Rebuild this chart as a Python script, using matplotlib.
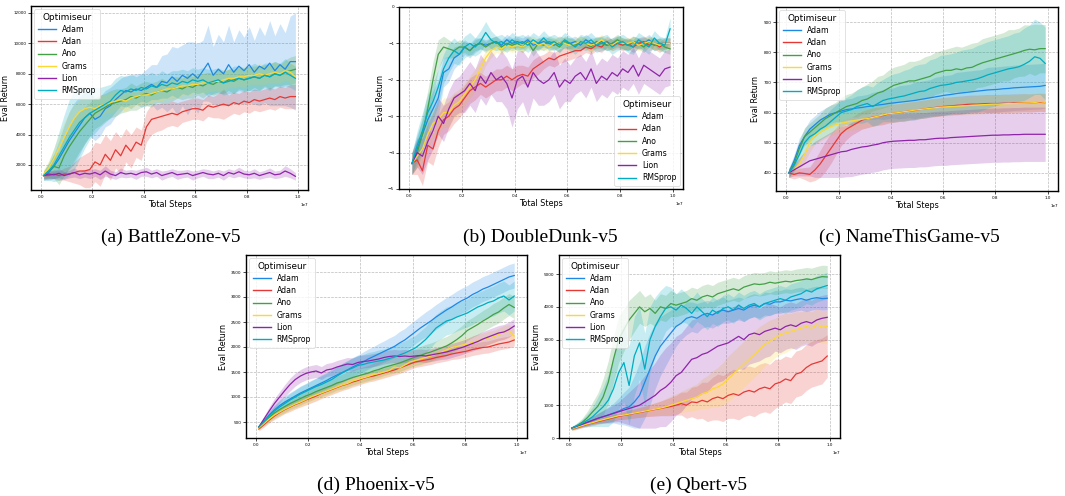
import numpy as np
import matplotlib
matplotlib.use("Agg")
import matplotlib.pyplot as plt

# ---------------- data (x: 50 evaluation points, in units of 1e7 steps) -------------
STEPS = np.linspace(0.01, 0.99, 50) * 1e7
OPTIMISERS = ["Adam", "Adan", "Ano", "Grams", "Lion", "RMSprop"]
COLORS = ["#1E88E5", "#E53935", "#43A047", "#FDD835", "#8E24AA", "#00ACC1"]

# (a) BattleZone-v5
BZ_ADAM = [1300,1500,1900,2400,3000,3600,4100,4600,5100,5400, 5000,5200,5700,5900,6300,6600,6900,6800,7000,6900,
           7100,7300,7100,7500,7400,7800,7500,7900,7700,8000, 7700,8200,8700,7900,8300,8000,8600,8100,8500,8200,
           8600,8100,8500,8300,8700,8200,8600,8300,8800,8800]
BZ_ADAM_SD = [300,500,800,1200,1600,1900,2000,1900,1700,1500, 1400,1300,1200,1200,1100,1100,1000,1100,1000,1100,
              1200,1300,1500,1700,1900,2000,2200,2000,2400,2100, 2300,2000,2500,1900,2300,2100,2600,2000,2400,2200,
              2500,2100,2600,2200,2800,2300,2700,2400,3000,3200]
BZ_ADAN = [1300,1300,1400,1300,1400,1400,1500,1600,1600,1700, 2200,2000,2700,2300,3000,2600,3300,2900,3500,3300,
           4500,5000,5100,5200,5300,5400,5300,5500,5600,5700, 5700,5600,5900,5800,5900,6000,5900,6100,6000,6200,
           6100,6300,6200,6300,6400,6300,6500,6400,6500,6500]
BZ_ADAN_SD = [200,200,300,300,400,500,700,900,1100,1200, 1300,1400,1300,1300,1200,1200,1100,1100,1000,1000,
              1000,1000,900,900,800,800,800,700,700,700, 700,700,700,700,800,1000,700,700,700,700,
              700,700,700,700,700,700,700,700,800,800]
BZ_ANO = [1300,1600,1900,1800,2600,3200,3700,4200,4600,5000, 5400,5600,5800,6000,6100,6200,6300,6500,6400,6600,
          6700,6600,6800,6900,6800,7000,7100,7000,7200,7100, 7300,7200,7400,7300,7500,7400,7600,7500,7700,7600,
          7700,7800,7700,7900,7800,8000,7900,8100,8200,8300]
BZ_ANO_SD = [300,500,800,1100,1300,1400,1400,1300,1200,1100, 1000,1000,900,900,900,800,800,900,800,800,
             800,800,700,800,700,800,700,700,800,700, 700,800,700,700,800,700,700,800,700,700,
             800,700,800,700,800,800,700,800,900,900]
BZ_GRAMS = [1400,1800,2400,3100,3800,4500,5100,5500,5700,5800, 5700,5900,6000,6100,6200,6300,6200,6400,6500,6600,
            6600,6700,6800,6900,7000,7000,7100,7200,7200,7300, 7300,7400,7400,7500,7500,7600,7700,7700,7800,7800,
            7900,7900,8000,7900,8000,8100,8000,8200,8100,7800]
BZ_GRAMS_SD = [300,500,700,900,1000,1000,900,800,800,700, 700,700,600,700,600,600,700,600,600,600,
               600,600,600,700,600,600,700,600,600,600, 600,700,600,600,600,700,600,600,600,700,
               600,600,700,600,600,700,600,600,700,700]
BZ_LION = [1300,1400,1350,1450,1300,1400,1500,1350,1450,1400, 1500,1350,1600,1400,1300,1500,1400,1450,1350,1500,
           1550,1400,1500,1300,1400,1500,1350,1400,1450,1300, 1400,1500,1400,1350,1450,1300,1500,1400,1550,1400,
           1350,1450,1300,1400,1500,1350,1400,1600,1450,1250]
BZ_LION_SD = [200,250,250,300,250,250,300,250,250,300, 250,300,350,250,250,300,250,250,300,250,
              300,250,250,300,250,250,300,250,250,300, 250,250,300,250,250,300,250,250,300,250,
              250,300,250,250,300,250,250,350,300,250]
BZ_RMS = [1300,1600,2000,2600,3200,3800,4300,4800,5100,5400, 5600,5800,6000,6200,6600,6900,6800,7000,6900,7100,
          7000,7200,7100,7300,7200,7400,7300,7500,7400,7600, 7500,7600,7400,7500,7600,7400,7500,7600,7700,7600,
          7700,7800,7700,7900,7800,8000,7900,8100,7900,7700]
BZ_RMS_SD = [300,600,1100,1600,2100,2500,2600,2400,2000,1700, 1500,1300,1200,1100,1100,1000,1000,1000,900,900,
             900,900,800,900,800,800,900,800,800,800, 800,800,900,800,800,800,800,900,800,800,
             800,900,800,800,900,800,800,900,800,800]

# (b) DoubleDunk-v5
DD_ADAM = [-4.3,-3.9,-3.5,-3.1,-2.8,-2.5,-1.8,-1.7,-1.4,-1.3, -1.1,-1.2,-1.05,-1.0,-1.05,-1.0,-0.95,-1.05,-0.9,-1.0,
           -0.95,-1.0,-0.9,-1.05,-1.0,-0.95,-1.0,-1.05,-0.95,-1.0, -1.0,-0.95,-1.05,-0.9,-1.0,-1.0,-0.95,-1.05,-1.0,-0.95,
           -1.0,-1.05,-0.95,-1.0,-1.0,-0.9,-1.05,-1.0,-1.0,-1.0]
DD_ADAM_SD = [0.3,0.4,0.4,0.5,0.5,0.5,0.4,0.35,0.3,0.25, 0.2,0.2,0.2,0.15,0.15,0.15,0.15,0.15,0.15,0.15,
              0.15,0.15,0.15,0.15,0.15,0.15,0.15,0.15,0.15,0.15, 0.15,0.15,0.15,0.15,0.15,0.15,0.15,0.15,0.15,0.15,
              0.15,0.15,0.15,0.15,0.15,0.15,0.15,0.15,0.15,0.15]
DD_ADAN = [-4.3,-4.2,-4.5,-3.8,-3.9,-3.4,-3.1,-3.0,-2.8,-2.7, -2.5,-2.3,-2.2,-2.1,-2.2,-2.1,-2.0,-2.0,-1.9,-2.0,
           -1.9,-1.85,-1.9,-1.7,-1.6,-1.5,-1.4,-1.45,-1.35,-1.3, -1.25,-1.2,-1.2,-1.1,-1.15,-1.05,-1.1,-0.95,-1.05,-1.0,
           -1.05,-1.0,-1.1,-1.0,-0.95,-1.05,-1.0,-1.1,-1.0,-1.0]
DD_ADAN_SD = [0.3,0.4,0.4,0.45,0.45,0.45,0.4,0.4,0.4,0.35, 0.35,0.35,0.35,0.3,0.3,0.3,0.3,0.3,0.3,0.3,
              0.3,0.25,0.25,0.25,0.25,0.2,0.2,0.2,0.2,0.2, 0.2,0.2,0.15,0.15,0.15,0.15,0.15,0.15,0.15,0.15,
              0.15,0.15,0.15,0.15,0.15,0.15,0.15,0.15,0.15,0.15]
DD_ANO = [-4.3,-4.0,-3.5,-2.8,-2.0,-1.3,-1.1,-1.15,-1.2,-1.1, -1.1,-1.2,-1.05,-1.0,-1.1,-1.0,-0.95,-1.1,-1.0,-1.05,
          -1.0,-1.1,-0.95,-1.2,-1.0,-1.05,-0.95,-1.0,-1.1,-0.95, -1.0,-1.05,-0.95,-1.0,-1.1,-0.95,-1.0,-1.05,-1.0,-0.9,
          -1.0,-1.05,-0.95,-1.0,-1.1,-0.95,-1.05,-1.0,-1.1,-1.15]
DD_ANO_SD = [0.3,0.4,0.5,0.5,0.5,0.4,0.3,0.25,0.2,0.2, 0.15,0.15,0.15,0.15,0.15,0.15,0.15,0.15,0.15,0.15,
             0.15,0.15,0.15,0.15,0.15,0.15,0.15,0.15,0.15,0.15, 0.15,0.15,0.15,0.15,0.15,0.15,0.15,0.15,0.15,0.15,
             0.15,0.15,0.15,0.15,0.15,0.15,0.15,0.15,0.15,0.15]
DD_GRAMS = [-4.3,-4.1,-3.9,-3.5,-3.2,-3.1,-2.9,-2.9,-2.7,-2.6, -2.4,-2.2,-2.0,-1.7,-1.4,-1.2,-1.1,-1.15,-1.05,-1.1,
            -1.05,-1.1,-1.0,-0.95,-1.05,-1.0,-1.1,-1.0,-0.95,-1.0, -1.05,-1.0,-0.95,-1.0,-1.05,-1.0,-0.9,-1.0,-1.05,-0.95,
            -1.0,-1.0,-0.95,-1.05,-1.0,-0.95,-1.0,-1.05,-1.0,-1.0]
DD_GRAMS_SD = [0.3,0.3,0.4,0.4,0.4,0.4,0.4,0.4,0.35,0.35, 0.3,0.3,0.3,0.25,0.2,0.2,0.15,0.15,0.15,0.15,
               0.15,0.15,0.15,0.15,0.15,0.15,0.15,0.15,0.15,0.15, 0.15,0.15,0.15,0.15,0.15,0.15,0.15,0.15,0.15,0.15,
               0.15,0.15,0.15,0.15,0.15,0.15,0.15,0.15,0.15,0.15]
DD_LION = [-4.3,-4.0,-4.1,-3.7,-3.4,-3.0,-3.2,-2.8,-2.5,-2.4, -2.3,-2.1,-2.3,-1.9,-2.1,-1.8,-2.0,-1.9,-2.1,-2.5,
           -2.0,-1.9,-2.2,-1.8,-2.0,-2.1,-2.0,-1.8,-2.2,-2.0, -2.1,-1.9,-1.8,-2.0,-1.7,-2.1,-1.9,-2.0,-1.8,-1.9,
           -1.7,-1.8,-1.6,-1.9,-1.6,-1.7,-1.8,-1.9,-1.7,-1.65]
DD_LION_SD = [0.3,0.4,0.5,0.5,0.5,0.5,0.5,0.5,0.5,0.5, 0.6,0.6,0.6,0.6,0.6,0.6,0.6,0.7,0.7,0.8,
              0.8,0.7,0.8,0.7,0.7,0.6,0.6,0.6,0.6,0.6, 0.5,0.5,0.5,0.5,0.5,0.5,0.5,0.5,0.5,0.5,
              0.5,0.5,0.5,0.5,0.5,0.5,0.5,0.5,0.5,0.5]
DD_RMS = [-4.3,-3.8,-3.4,-2.9,-2.6,-2.2,-1.7,-1.4,-1.2,-1.3, -1.1,-1.0,-1.1,-0.95,-0.7,-0.9,-1.0,-0.95,-1.05,-0.9,
          -1.0,-0.95,-1.05,-0.9,-1.0,-0.85,-1.0,-0.95,-1.05,-0.9, -1.0,-1.1,-0.95,-1.0,-0.9,-1.05,-1.0,-0.95,-1.1,-1.0,
          -0.95,-1.05,-1.1,-0.9,-1.0,-1.1,-0.85,-1.0,-1.05,-0.6]
DD_RMS_SD = [0.3,0.4,0.5,0.5,0.5,0.5,0.4,0.4,0.35,0.3, 0.3,0.3,0.25,0.3,0.3,0.25,0.2,0.2,0.2,0.2,
             0.2,0.2,0.2,0.2,0.2,0.2,0.2,0.2,0.2,0.2, 0.2,0.2,0.2,0.2,0.2,0.2,0.2,0.2,0.2,0.2,
             0.2,0.2,0.2,0.2,0.2,0.2,0.2,0.2,0.2,0.3]

# (c) NameThisGame-v5
NT_ADAM = [400,440,490,520,545,560,575,585,595,600, 605,610,612,615,617,620,622,625,627,630,
           632,634,636,638,640,643,646,649,652,655, 658,660,663,665,667,669,671,673,675,676,
           677,679,680,682,683,684,685,686,687,690]
NT_ADAM_SD = [15,20,25,25,30,30,30,30,30,30, 35,35,35,40,40,40,45,45,50,50, 50,55,55,55,60,60,60,60,65,65,
              65,65,70,70,70,70,70,70,75,75, 75,75,75,75,75,75,75,75,75,75]
NT_ADAN = [400,395,400,398,395,410,430,455,480,505, 530,545,555,565,575,580,585,588,590,595,
           598,600,603,605,607,610,612,615,617,619, 621,622,624,625,627,628,628,629,630,630,
           630,631,631,632,632,633,632,633,634,633]
NT_ADAN_SD = [15,15,15,20,25,35,45,50,50,45, 40,35,30,30,30,30,30,30,30,30, 30,30,30,30,30,30,30,30,30,30,
              30,30,30,30,30,30,30,30,30,30, 30,30,30,30,30,30,30,30,30,30]
NT_ANO = [400,430,480,520,535,550,565,580,590,600, 610,620,625,630,640,645,655,665,670,680,
          690,695,700,705,705,710,715,720,730,735, 740,740,745,742,748,750,758,765,770,775,
          780,785,790,795,800,806,810,808,812,812]
NT_ANO_SD = [15,20,25,30,30,30,30,35,35,35, 40,40,40,45,45,50,50,55,55,60, 60,60,60,65,65,65,70,70,70,70,
             70,75,75,75,75,80,75,80,80,80, 80,80,85,80,80,85,80,85,80,80]
NT_GRAMS = [400,410,430,460,500,525,535,545,553,560, 565,568,572,575,578,580,584,588,592,596,
            598,600,603,605,608,610,612,614,616,618, 619,620,621,622,623,624,625,626,627,628,
            628,629,630,630,631,632,632,633,636,634]
NT_GRAMS_SD = [15,15,20,25,30,30,30,30,30,30, 30,30,30,30,30,30,30,30,30,30, 30,30,30,30,30,30,30,30,30,30,
               30,30,30,30,30,30,30,30,30,30, 30,30,30,30,30,30,30,30,30,30]
NT_LION = [400,410,420,430,440,445,450,455,460,465, 470,472,478,482,486,488,492,495,500,503,
           505,506,507,508,508,510,510,512,514,515, 515,517,518,519,520,521,522,523,524,525,
           525,526,526,527,527,528,528,528,528,528]
NT_LION_SD = [15,20,30,40,50,60,65,70,75,80, 85,85,90,90,90,90,90,90,90,90, 90,90,90,90,90,90,90,90,90,90,
              90,90,90,90,90,90,90,90,90,90, 90,90,90,90,90,90,90,90,90,90]
NT_RMS = [400,425,460,500,520,530,545,555,570,585, 600,605,610,620,625,630,620,630,640,645,
          648,652,655,660,665,670,672,680,685,690, 692,695,700,702,705,708,712,718,725,730,
          735,740,745,748,752,760,770,785,780,763]
NT_RMS_SD = [15,20,25,30,30,35,35,35,40,40, 45,45,50,55,60,60,65,70,70,75, 80,80,85,85,90,90,90,95,95,100,
             100,100,100,105,105,105,110,110,110,110, 110,110,110,115,115,120,120,125,120,120]

# (d) Phoenix-v5
PH_ADAM = [400,520,640,740,830,900,960,1020,1080,1130, 1180,1230,1280,1330,1390,1440,1490,1540,1600,1650,
           1700,1760,1810,1860,1910,1960,2010,2080,2140,2220, 2300,2380,2450,2520,2600,2670,2740,2800,2870,2930,
           2980,3050,3100,3160,3200,3250,3300,3350,3400,3430]
PH_ADAM_SD = [40,60,80,100,110,120,130,130,140,140, 150,150,160,160,170,170,180,180,190,190,
              200,200,200,210,210,220,220,230,230,240, 240,240,250,250,250,250,250,250,250,250,
              250,250,250,250,250,250,250,250,250,250]
PH_ADAN = [360,450,540,620,690,750,800,850,890,940, 980,1020,1070,1110,1150,1190,1230,1260,1300,1330,
           1370,1400,1420,1450,1480,1510,1540,1580,1620,1660, 1700,1720,1740,1760,1790,1810,1830,1860,1880,1900,
           1920,1950,1970,1990,2000,2030,2060,2080,2100,2140]
PH_ADAN_SD = [40,50,60,70,80,80,90,90,90,100, 100,100,100,100,100,100,100,100,100,100,
              100,100,100,100,100,100,100,110,110,110, 110,110,110,110,110,110,110,110,120,120,
              120,120,120,120,120,120,120,120,120,120]
PH_ANO = [400,490,590,680,750,810,870,920,970,1020, 1060,1110,1150,1190,1230,1280,1310,1350,1390,1420,
          1450,1480,1520,1550,1590,1620,1650,1680,1720,1760, 1800,1830,1870,1900,1940,1980,2020,2080,2150,2230,
          2330,2390,2450,2520,2580,2650,2700,2780,2850,2790]
PH_ANO_SD = [40,60,80,100,110,120,120,130,130,130, 130,130,140,140,140,140,150,150,150,150,
             150,150,160,160,160,160,170,170,170,170, 170,180,180,180,180,190,190,190,200,200,
             200,200,210,210,210,220,220,220,220,220]
PH_GRAMS = [380,470,560,640,700,760,810,860,900,950, 1000,1040,1080,1120,1160,1200,1240,1270,1320,1350,
            1380,1410,1450,1470,1500,1530,1600,1580,1640,1700, 1730,1760,1790,1820,1860,1900,1940,1990,2010,2040,
            2060,2090,2120,2150,2180,2200,2250,2300,2320,2220]
PH_GRAMS_SD = [40,50,60,70,80,80,90,90,90,100, 100,100,100,100,100,100,100,100,100,100,
               100,100,110,110,110,110,110,110,110,110, 120,120,120,120,120,120,120,120,130,130,
               130,130,130,130,130,130,130,130,130,130]
PH_LION = [400,560,720,870,1000,1130,1250,1350,1420,1470, 1500,1520,1480,1540,1560,1600,1630,1660,1650,1690,
           1710,1720,1740,1760,1790,1810,1820,1810,1820,1810, 1820,1830,1820,1840,1860,1880,1900,1930,1960,1990,
           2030,2070,2110,2160,2200,2240,2280,2300,2350,2420]
PH_LION_SD = [40,60,80,100,110,120,130,130,130,130, 130,130,130,130,130,130,130,130,130,130,
              130,130,130,130,130,130,130,130,130,130, 130,130,130,130,130,130,140,140,140,140,
              140,150,150,150,150,150,150,150,150,150]
PH_RMS = [400,500,620,720,800,870,940,1000,1060,1110, 1160,1210,1250,1300,1350,1420,1480,1540,1580,1630,
          1650,1680,1700,1720,1740,1770,1800,1840,1880,1930, 1980,2060,2150,2260,2380,2450,2520,2550,2600,2640,
          2680,2740,2800,2840,2890,2920,2980,3020,2940,3020]
PH_RMS_SD = [40,60,80,100,110,120,130,140,150,150, 160,160,170,170,180,180,190,190,200,200,
             200,210,210,220,220,230,230,240,240,250, 250,260,260,270,270,280,280,280,280,280,
             280,290,290,290,290,300,300,300,300,300]

# (e) Qbert-v5
QB_ADAM = [300,360,420,480,540,600,650,700,760,820, 900,950,1100,1300,1700,2100,2500,2800,3000,3200,
           3400,3500,3650,3700,3650,3750,3800,3750,3850,3900, 3850,3900,3950,3900,4000,4050,4000,4100,4080,4150,
           4150,4200,4180,4220,4250,4200,4250,4280,4250,4260]
QB_ADAM_SD = [50,60,80,100,120,150,200,250,300,400, 500,600,800,1000,1100,1100,1000,900,800,700,
              600,500,500,450,450,400,400,400,400,400, 350,350,350,350,350,350,350,350,350,350,
              350,350,350,350,350,350,350,350,350,350]
QB_ADAN = [280,320,370,420,460,500,540,580,620,660, 690,720,750,780,810,840,870,900,930,960,
           1000,1050,1000,1100,1080,1150,1100,1200,1250,1200, 1300,1350,1300,1400,1450,1400,1500,1550,1500,1650,
           1700,1800,1750,1950,2000,2150,2250,2300,2350,2500]
QB_ADAN_SD = [50,60,60,70,80,80,90,100,100,100, 120,130,140,150,160,180,200,220,250,280,
              300,350,400,450,500,550,600,650,700,700, 700,750,750,750,750,750,750,750,750,750,
              700,700,700,700,700,700,700,700,700,650]
QB_ANO = [300,380,480,620,800,970,1250,1700,2400,3000, 3300,3600,3800,4000,3850,3950,3800,4000,3950,4100,
          4050,4100,4150,4250,4200,4300,4350,4300,4400,4450, 4500,4550,4500,4600,4650,4700,4680,4700,4750,4720,
          4750,4780,4760,4800,4820,4850,4830,4880,4920,4910]
QB_ANO_SD = [50,80,120,200,300,400,550,650,700,700, 650,600,550,500,450,450,400,400,400,400,
             350,350,350,350,350,350,350,350,350,350, 350,350,350,350,350,350,350,350,350,350,
             350,350,350,350,350,350,350,350,350,350]
QB_GRAMS = [280,330,380,430,470,520,560,600,640,680, 700,730,760,790,820,850,880,910,950,1000,
            1050,1100,1150,1200,1250,1350,1400,1500,1550,1650, 1800,1950,2100,2250,2400,2550,2700,2850,2950,3050,
            3150,3200,3250,3300,3350,3400,3350,3450,3380,3400]
QB_GRAMS_SD = [50,60,60,70,80,80,90,100,100,100, 120,130,140,150,160,180,200,220,250,280,
               300,320,350,380,400,450,500,550,600,650, 700,700,700,700,700,700,700,650,650,600,
               600,600,550,550,500,500,500,500,500,500]
QB_LION = [300,360,420,480,540,600,650,700,750,800, 850,900,950,1000,1100,1200,1300,1450,1550,1700,
           1900,2000,2200,2400,2450,2550,2600,2700,2800,2850, 2900,3000,3100,3000,3150,3200,3150,3250,3300,3350,
           3300,3400,3450,3400,3500,3550,3500,3600,3650,3680]
QB_LION_SD = [50,60,80,100,120,150,180,220,260,300, 400,500,600,700,800,900,1000,1100,1200,1200,
              1200,1200,1200,1200,1200,1200,1200,1100,1100,1100, 1000,1000,1000,900,900,900,800,800,800,700,
              700,700,700,700,700,700,700,700,700,700]
QB_RMS = [300,370,450,540,650,800,950,1150,1500,2000, 2300,1600,2500,2900,2100,3000,3400,3700,3950,4000,
          3900,4050,3950,3800,4000,3850,3700,3900,3800,3950, 4000,3900,4050,3950,4050,4100,4000,4100,4150,4200,
          4250,4200,4300,4350,4400,4500,4450,4550,4600,4650]
QB_RMS_SD = [50,80,120,200,300,450,600,800,1000,1100, 1200,1200,1200,1100,1100,1000,900,800,700,600,
             500,500,450,450,450,400,400,400,400,400, 400,400,400,400,400,400,400,400,400,400,
             400,400,400,400,400,400,400,400,400,400]

PANELS = [
    dict(title="(a) BattleZone-v5", px=(31, 6, 308, 190), ylim=(350, 12460),
         yticks=[2000, 4000, 6000, 8000, 10000, 12000], loc="upper left",
         means=[BZ_ADAM, BZ_ADAN, BZ_ANO, BZ_GRAMS, BZ_LION, BZ_RMS],
         sds=[BZ_ADAM_SD, BZ_ADAN_SD, BZ_ANO_SD, BZ_GRAMS_SD, BZ_LION_SD, BZ_RMS_SD], cap=(171, 237)),
    dict(title="(b) DoubleDunk-v5", px=(399, 7, 683, 189), ylim=(-5, 0),
         yticks=[-5, -4, -3, -2, -1, 0], loc="lower right",
         means=[DD_ADAM, DD_ADAN, DD_ANO, DD_GRAMS, DD_LION, DD_RMS],
         sds=[DD_ADAM_SD, DD_ADAN_SD, DD_ANO_SD, DD_GRAMS_SD, DD_LION_SD, DD_RMS_SD], cap=(540, 237)),
    dict(title="(c) NameThisGame-v5", px=(776, 7, 1058, 191), ylim=(340, 950),
         yticks=[400, 500, 600, 700, 800, 900], loc="upper left",
         means=[NT_ADAM, NT_ADAN, NT_ANO, NT_GRAMS, NT_LION, NT_RMS],
         sds=[NT_ADAM_SD, NT_ADAN_SD, NT_ANO_SD, NT_GRAMS_SD, NT_LION_SD, NT_RMS_SD], cap=(909, 237)),
    dict(title="(d) Phoenix-v5", px=(246, 255, 527, 438), ylim=(180, 3840),
         yticks=[500, 1000, 1500, 2000, 2500, 3000, 3500], loc="upper left",
         means=[PH_ADAM, PH_ADAN, PH_ANO, PH_GRAMS, PH_LION, PH_RMS],
         sds=[PH_ADAM_SD, PH_ADAN_SD, PH_ANO_SD, PH_GRAMS_SD, PH_LION_SD, PH_RMS_SD], cap=(376, 485)),
    dict(title="(e) Qbert-v5", px=(559, 255, 840, 438), ylim=(0, 5580),
         yticks=[0, 1000, 2000, 3000, 4000, 5000], loc="upper left",
         means=[QB_ADAM, QB_ADAN, QB_ANO, QB_GRAMS, QB_LION, QB_RMS],
         sds=[QB_ADAM_SD, QB_ADAN_SD, QB_ANO_SD, QB_GRAMS_SD, QB_LION_SD, QB_RMS_SD], cap=(699, 485)),
]

W, H = 1065, 496
fig = plt.figure(figsize=(W / 100, H / 100), dpi=100)

for p in PANELS:
    l, t, r, b = p["px"]
    ax = fig.add_axes([l / W, 1 - b / H, (r - l) / W, (b - t) / H])
    for name, col, m, s in zip(OPTIMISERS, COLORS, p["means"], p["sds"]):
        m = np.asarray(m, float)
        s = np.asarray(s, float)
        ax.fill_between(STEPS, m - s, m + s, color=col, alpha=0.22, linewidth=0)
        ax.plot(STEPS, m, color=col, lw=0.9, label=name)
    ax.set_ylim(*p["ylim"])
    ax.set_yticks(p["yticks"])
    ax.set_xticks([0, 0.2e7, 0.4e7, 0.6e7, 0.8e7, 1.0e7])
    ax.grid(True, ls="--", lw=0.5, color="#bbbbbb")
    ax.set_axisbelow(True)
    ax.tick_params(labelsize=3, length=2, width=0.5, pad=1.5)
    ax.xaxis.get_offset_text().set_fontsize(3)
    for sp in ax.spines.values():
        sp.set_linewidth(1.0)
        sp.set_color("black")
    ax.set_xlabel("Total Steps", fontsize=5.8, labelpad=1)
    ax.set_ylabel("Eval Return", fontsize=5.8, labelpad=2)
    leg = ax.legend(title="Optimiseur", loc=p["loc"], fontsize=5.6, title_fontsize=6.4,
                    frameon=True, borderpad=0.45, labelspacing=0.42, handlelength=2.3,
                    borderaxespad=0.4)
    leg.get_frame().set_linewidth(0.5)
    for ln in leg.get_lines():
        ln.set_linewidth(1.0)
    cx, cy = p["cap"]
    fig.text(cx / W, 1 - cy / H, p["title"], ha="center", va="center",
             fontsize=14, family="Liberation Serif")

fig.savefig("out.png", dpi=100)
